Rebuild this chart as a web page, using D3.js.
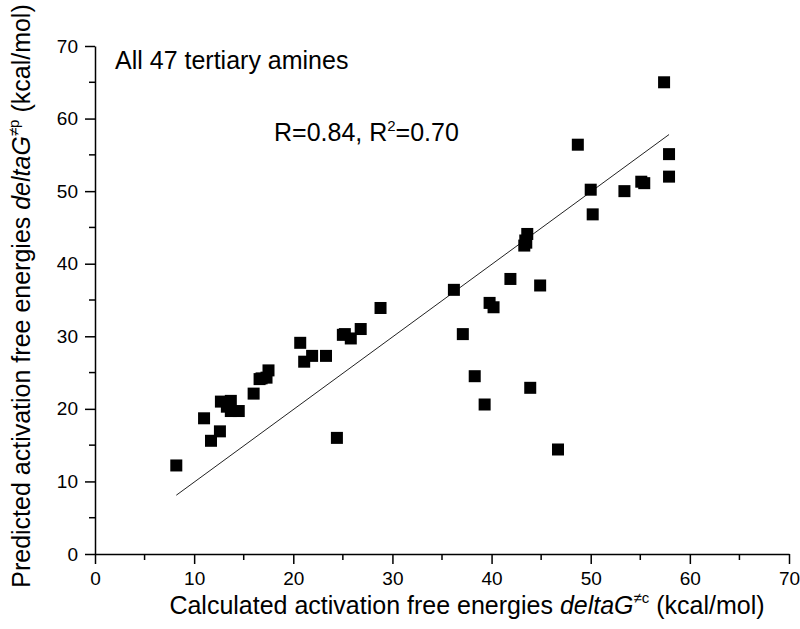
<!DOCTYPE html>
<html>
<head>
<meta charset="utf-8">
<script src="https://cdn.jsdelivr.net/npm/d3@7"></script>
<style>
  html, body { margin: 0; padding: 0; background: #fff; }
  svg { display: block; }
  text { font-family: Arial, "Liberation Sans", sans-serif; fill: #000; }
</style>
</head>
<body>
<svg id="chart" width="800" height="629"></svg>
<script>
// ---- data ----
const calcX = [8.2, 11.0, 11.7, 12.6, 12.7, 13.3, 13.7, 13.7, 14.5, 16.0, 16.6, 16.8, 17.3, 17.5,
  20.7, 21.1, 21.9, 23.3, 24.4, 25.0, 25.2, 25.8, 26.8, 28.8, 36.2, 37.1, 38.3, 39.3, 39.8, 40.2,
  41.9, 43.3, 43.4, 43.5, 43.6, 43.9, 44.9, 46.7, 48.7, 50.0, 50.2, 53.4, 55.1, 55.4, 57.4, 57.9, 57.9];
const predY = [12.2, 18.7, 15.6, 16.9, 21.0, 20.3, 21.1, 19.7, 19.7, 22.1, 24.1, 24.2, 24.3, 25.3,
  29.1, 26.5, 27.3, 27.3, 16.0, 30.2, 30.3, 29.7, 31.0, 33.9, 36.4, 30.3, 24.5, 20.6, 34.6, 34.0,
  37.9, 42.5, 43.2, 42.9, 44.1, 22.9, 37.0, 14.4, 56.4, 50.2, 46.8, 50.0, 51.3, 51.1, 65.0, 55.1, 52.0];
const fitLineX = [8.2, 57.9];
const fitLineY = [8.1, 57.8];
const xTicks = [0, 10, 20, 30, 40, 50, 60, 70];
const yTicks = [0, 10, 20, 30, 40, 50, 60, 70];
const xMinorTicks = [5, 15, 25, 35, 45, 55, 65];
const yMinorTicks = [5, 15, 25, 35, 45, 55, 65];
const annoTitle = "All 47 tertiary amines";

// ---- layout ----
const svg = d3.select("#chart");
const M = { left: 95, top: 46, right: 11, bottom: 75 };
const W = 800 - M.left - M.right;
const H = 629 - M.top - M.bottom;

const x = d3.scaleLinear().domain([0, 70]).range([M.left, M.left + W]);
const y = d3.scaleLinear().domain([0, 70]).range([M.top + H, M.top]);

// axes
const xAxis = d3.axisBottom(x).tickValues(xTicks).tickSize(10).tickSizeOuter(0).tickPadding(8);
const yAxis = d3.axisLeft(y).tickValues(yTicks).tickSize(10).tickSizeOuter(0).tickPadding(7);

const gx = svg.append("g").attr("transform", `translate(0,${M.top + H})`).call(xAxis);
gx.selectAll("text").style("font-size", "19px").attr("font-family", "Arial, 'Liberation Sans', sans-serif");
gx.append("g").selectAll("line").data(xMinorTicks).join("line")
  .attr("x1", d => x(d)).attr("x2", d => x(d)).attr("y1", 0).attr("y2", 6)
  .attr("stroke", "#000").attr("stroke-width", 1.5);

const gy = svg.append("g").attr("transform", `translate(${M.left},0)`).call(yAxis);
gy.selectAll("text").style("font-size", "19px").attr("font-family", "Arial, 'Liberation Sans', sans-serif");
gy.append("g").selectAll("line").data(yMinorTicks).join("line")
  .attr("y1", d => y(d)).attr("y2", d => y(d)).attr("x1", 0).attr("x2", -6)
  .attr("stroke", "#000").attr("stroke-width", 1.5);

svg.selectAll(".domain, .tick line").attr("stroke", "#000").attr("stroke-width", 1.5);

// fit line
svg.append("line")
  .attr("x1", x(fitLineX[0])).attr("y1", y(fitLineY[0]))
  .attr("x2", x(fitLineX[1])).attr("y2", y(fitLineY[1]))
  .attr("stroke", "#222").attr("stroke-width", 1);

// points
const pts = calcX.map((v, i) => ({ x: v, y: predY[i] }));
const S = 12;
svg.append("g").selectAll("rect").data(pts).join("rect")
  .attr("x", d => x(d.x) - S / 2).attr("y", d => y(d.y) - S / 2)
  .attr("width", S).attr("height", S).attr("fill", "#000");

// annotations
svg.append("text").attr("x", 115).attr("y", 69).style("font-size", "25px").text(annoTitle);

const r = svg.append("text").attr("x", 274).attr("y", 141).style("font-size", "25px");
r.append("tspan").text("R=0.84, R");
r.append("tspan").attr("dy", -10).style("font-size", "15px").text("2");
r.append("tspan").attr("dy", 10).text("=0.70");

// axis titles
const xt = svg.append("text").attr("x", 467).attr("y", 614)
  .attr("text-anchor", "middle").style("font-size", "25px");
xt.append("tspan").text("Calculated activation free energies ");
xt.append("tspan").style("font-style", "italic").text("deltaG");
xt.append("tspan").attr("dy", -11).style("font-size", "15px").text("≠c");
xt.append("tspan").attr("dy", 11).text(" (kcal/mol)");

const yt = svg.append("text").attr("transform", `translate(30,${296}) rotate(-90)`)
  .attr("text-anchor", "middle").style("font-size", "25px");
yt.append("tspan").text("Predicted activation free energies ");
yt.append("tspan").style("font-style", "italic").text("deltaG");
yt.append("tspan").attr("dy", -11).style("font-size", "15px").text("≠p");
yt.append("tspan").attr("dy", 11).text(" (kcal/mol)");
</script>
</body>
</html>
